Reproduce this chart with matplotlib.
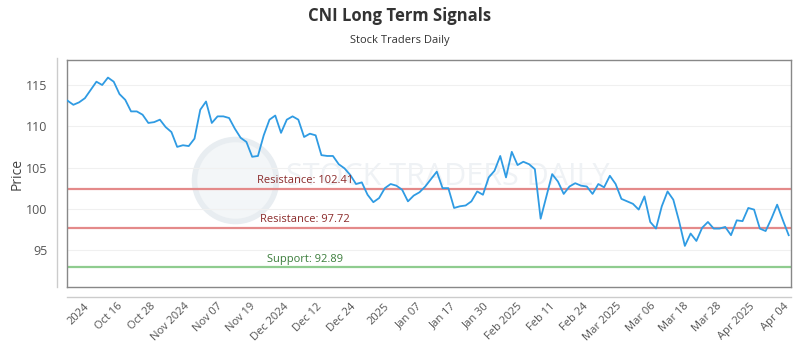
import matplotlib
matplotlib.use("Agg")
import matplotlib.pyplot as plt
import matplotlib.transforms as mtransforms
from matplotlib.lines import Line2D
import numpy as np

plt.rcParams['font.family'] = ['Open Sans', 'DejaVu Sans']

title = "CNI Long Term Signals"
subtitle = "Stock Traders Daily"

prices = [113.1, 112.6, 112.9, 113.4, 114.4, 115.4, 115.0, 115.9, 115.4, 113.9,
          113.2, 111.8, 111.8, 111.4, 110.4, 110.5, 110.8, 109.9, 109.3, 107.5,
          107.7, 107.6, 108.5, 112.0, 113.0, 110.4, 111.2, 111.2, 111.0, 109.7,
          108.6, 108.1, 106.3, 106.4, 108.9, 110.8, 111.3, 109.2, 110.8, 111.2,
          110.8, 108.7, 109.1, 108.9, 106.5, 106.4, 106.4, 105.4, 104.9, 104.1,
          103.0, 103.2, 101.7, 100.8, 101.3, 102.5, 103.0, 102.8, 102.3, 100.9,
          101.6, 102.0, 102.7, 103.6, 104.5, 102.5, 102.5, 100.1, 100.3, 100.4,
          100.9, 102.1, 101.7, 103.8, 104.6, 106.4, 103.8, 106.9, 105.3, 105.7,
          105.4, 104.8, 98.8, 101.5, 104.2, 103.3, 101.8, 102.7, 103.1, 102.8,
          102.7, 101.8, 103.0, 102.6, 104.0, 103.0, 101.2, 100.9, 100.6, 99.9,
          101.5, 98.4, 97.6, 100.3, 102.1, 101.1, 98.5, 95.5, 97.0, 96.1,
          97.7, 98.4, 97.6, 97.6, 97.8, 96.8, 98.6, 98.5, 100.1, 99.9,
          97.6, 97.3, 98.8, 100.5, 98.6, 96.8]

tick_labels = ["2024", "Oct 16", "Oct 28", "Nov 2024", "Nov 07", "Nov 19", "Dec 2024",
               "Dec 12", "Dec 24", "2025", "Jan 07", "Jan 17", "Jan 30", "Feb 2025",
               "Feb 11", "Feb 24", "Mar 2025", "Mar 06", "Mar 18", "Mar 28",
               "Apr 2025", "Apr 04"]

levels = [102.41, 97.72, 92.89]
level_names = ["Resistance", "Resistance", "Support"]
level_colors = ["#e48a8a", "#e48a8a", "#8fcc8f"]
level_text_colors = ["#8b2b2b", "#8b2b2b", "#3b7d3b"]

n = len(prices)
x = np.arange(n)

fig = plt.figure(figsize=(8, 3.5), dpi=100)
ax = fig.add_axes([67/800, 1-287/350, 724/800, 227/350])

ax.plot(x, prices, color="#2f9be3", lw=1.3, zorder=3)

trans = mtransforms.blended_transform_factory(ax.transAxes, ax.transData)
for lv, nm, c, tc in zip(levels, level_names, level_colors, level_text_colors):
    ax.axhline(lv, color=c, lw=1.6, zorder=2)
    ax.text(0.329, lv + 0.35, f"{nm}: {lv:.2f}", transform=trans, ha="center",
            va="bottom", fontsize=8, color=tc, zorder=4)

# watermark (behind data)
ax.scatter([(235-67)/724], [(287-180)/227], s=(82*0.72)**2, marker="o",
           transform=ax.transAxes, facecolor="#f3f6f8", edgecolor="#e8edf1",
           linewidths=4, zorder=0.5, clip_on=False)
ax.text((448-67)/724, (287-177)/227, "STOCK TRADERS DAILY", transform=ax.transAxes,
        ha="center", va="center", fontsize=22, color="#eff2f5", zorder=0.6)

ax.set_xlim(-0.1, n - 0.6)
ax.set_ylim(90.52, 118.03)
ax.set_yticks([95, 100, 105, 110, 115])
ax.grid(axis="y", color="#f0f0f0", lw=0.8)
ax.set_axisbelow(True)
ax.patch.set_alpha(0)

tick_pos = np.linspace(2.8, n - 2, len(tick_labels))
ax.set_xticks(tick_pos)
ax.set_xticklabels(tick_labels, rotation=45, ha="right", rotation_mode="anchor",
                   fontsize=8, color="#555555")
ax.tick_params(axis="x", length=0, pad=10)
ax.tick_params(axis="y", length=0, pad=14, labelsize=9, labelcolor="#555555")

for s in ax.spines.values():
    s.set_color("#888888")
    s.set_linewidth(1.0)

ax.set_ylabel("Price", fontsize=10, color="#444444", labelpad=1)

fig.add_artist(Line2D([57/800, 57/800], [1-58/350, 1-287/350], color="#cccccc", lw=1,
                      transform=fig.transFigure))
fig.add_artist(Line2D([67/800, 791/800], [1-297/350, 1-297/350], color="#cccccc", lw=1,
                      transform=fig.transFigure))

fig.text(0.5, 1-16/350, title, ha="center", va="center", fontsize=12,
         fontweight="bold", color="#333333")
fig.text(0.5, 1-40/350, subtitle, ha="center", va="center", fontsize=8,
         color="#333333")

fig.savefig("out.png", dpi=100)
